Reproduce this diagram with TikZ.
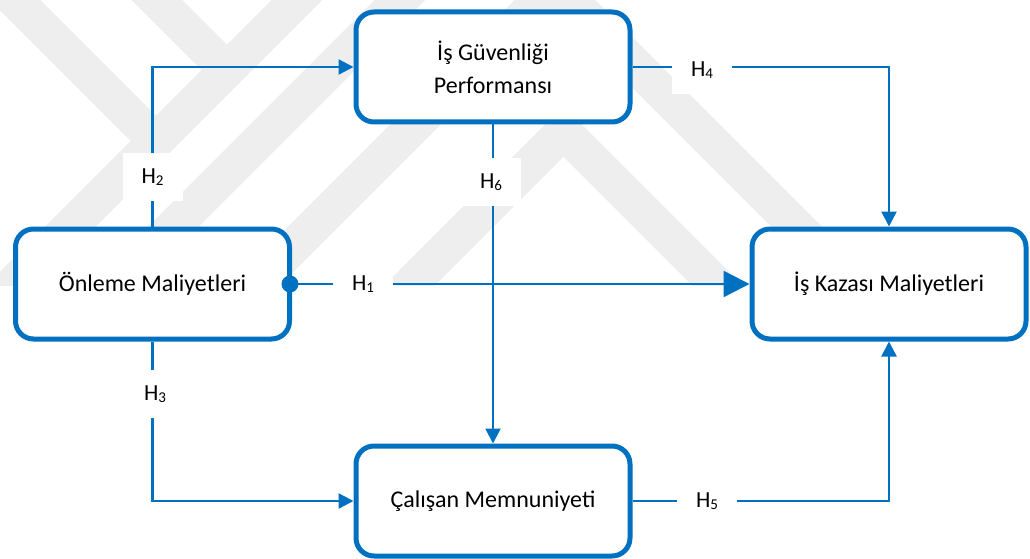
\documentclass[tikz,border=0pt]{standalone}
\usepackage{fontspec}
\setmainfont{Carlito}
\usetikzlibrary{arrows.meta}
\definecolor{myblue}{HTML}{0070C0}
\definecolor{wmgray}{HTML}{EEEEEE}
\newcommand{\hsub}[1]{H\raisebox{-1.5pt}{\fontsize{15}{15}\selectfont #1}}
\tikzset{
  box/.style={draw=myblue, line width=5pt, rounded corners=18pt, fill=white,
    minimum width=274pt, minimum height=110pt, inner sep=0pt, align=center,
    font=\fontsize{24}{33}\selectfont},
  conn/.style={draw=myblue, line width=2.3pt},
  tip/.style={-{Triangle[length=15pt,width=15pt]}},
  bigtip/.style={-{Triangle[length=26pt,width=26pt]}},
  lab/.style={fill=white, inner sep=0pt, minimum width=60pt, minimum height=48pt,
    font=\fontsize{23}{23}\selectfont},
  wm/.style={draw=wmgray, line width=36pt, line cap=butt, line join=miter}
}
\begin{document}
\begin{tikzpicture}[x=1pt,y=-1pt]
\useasboundingbox (0,0) rectangle (1030,559);
% watermark
\begin{scope}
  \clip (0,0) rectangle (1030,285);
  \draw[wm] (-20,-35) -- (156,141);
  \draw[wm] (330,-33) -- (-10,307);
  \draw[wm] (140,-17) -- (227,70);
  \draw[wm] (420,-20) -- (100,300);
  \draw[wm] (265,275) -- (555,-15) -- (860,290);
  \draw[wm] (395,300) -- (563.5,131.5) -- (732,300);
\end{scope}
% boxes
\node[box] (T) at (493,67) {İş Güvenliği\\Performansı};
\node[box] (L) at (152.5,284) {Önleme Maliyetleri};
\node[box] (R) at (889,284) {İş Kazası Maliyetleri};
\node[box] (B) at (493,501) {Çalışan Memnuniyeti};
% connectors
\draw[conn,tip] (L.north) |- (T.west);
\draw[conn,tip] (L.south) |- (B.west);
\draw[conn,tip] (T.east) -| (R.north);
\draw[conn,tip] (B.east) -| (R.south);
\draw[conn,tip] (T.south) -- (B.north);
\draw[conn,bigtip] (L.east) -- (R.west);
\fill[myblue] ([xshift=-2pt]L.east) circle (8.5pt);
% labels
\node[lab] (h2) at (152.5,177) {\hsub{2}};
\node[lab] (h3) at (155,394) {\hsub{3}};
\node[lab] (h6) at (491,182) {\hsub{6}};
\node[lab] (h1) at (363,284) {\hsub{1}};
\node[lab] (h4) at (702,70) {\hsub{4}};
\node[lab] (h5) at (707,501) {\hsub{5}};
\end{tikzpicture}
\end{document}
